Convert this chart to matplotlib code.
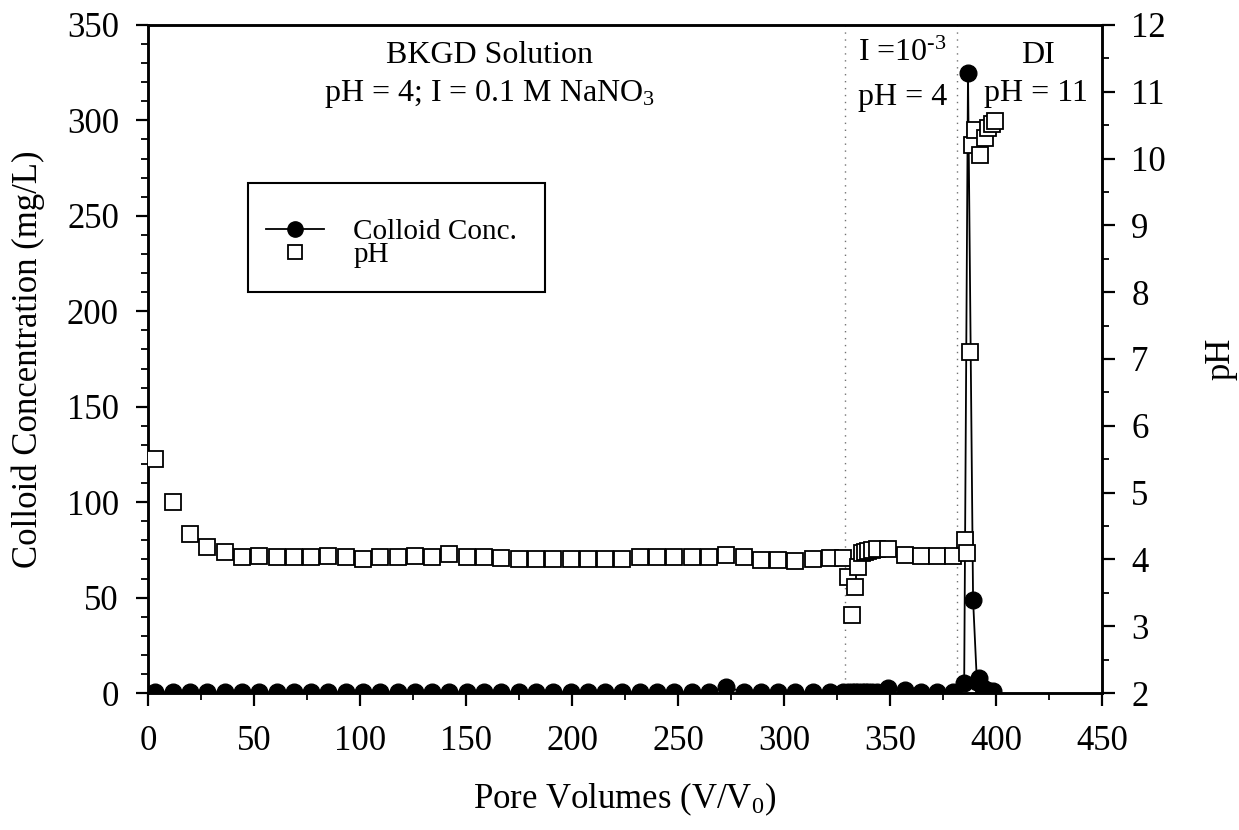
import matplotlib
matplotlib.use("Agg")
import matplotlib.pyplot as plt
from matplotlib.ticker import MultipleLocator
from matplotlib.lines import Line2D
from matplotlib.patches import Rectangle

plt.rcParams["font.family"] = ["Liberation Serif", "DejaVu Serif"]
plt.rcParams["mathtext.fontset"] = "custom"
plt.rcParams["mathtext.rm"] = "Liberation Serif"
plt.rcParams["mathtext.it"] = "Liberation Serif:italic"
plt.rcParams["mathtext.default"] = "regular"

# pore volumes sampled during the BKGD stage (same for both series)
pv_bkgd = [3.5, 11.7, 19.8, 28.0, 36.1, 44.3, 52.5, 60.6, 68.8, 76.9,
           85.1, 93.3, 101.4, 109.6, 117.7, 125.9, 134.1, 142.2, 150.4, 158.5,
           166.7, 174.9, 183.0, 191.2, 199.3, 207.5, 215.7, 223.8, 232.0, 240.1,
           248.3, 256.5, 264.6, 272.8, 280.9, 289.1, 297.3, 305.4, 313.6, 321.7]
ph_bkgd = [5.51, 4.86, 4.38, 4.18, 4.11, 4.04, 4.05, 4.04, 4.03, 4.03,
           4.05, 4.04, 4.01, 4.04, 4.04, 4.05, 4.04, 4.08, 4.04, 4.04,
           4.02, 4.01, 4.01, 4.01, 4.01, 4.01, 4.01, 4.01, 4.03, 4.03,
           4.04, 4.04, 4.04, 4.07, 4.04, 3.99, 3.99, 3.98, 4.01, 4.02]
conc_bkgd = [0.5, 0.5, 0.5, 0.5, 0.5, 0.5, 0.5, 0.5, 0.5, 0.5,
             0.5, 0.5, 0.5, 0.5, 0.5, 0.5, 0.5, 0.5, 0.5, 0.5,
             0.5, 0.5, 0.5, 0.5, 0.5, 0.5, 0.5, 0.5, 0.5, 0.5,
             0.5, 0.5, 0.5, 3.3, 0.5, 0.5, 0.5, 0.5, 0.5, 0.5]

# low ionic strength and DI stages
pv_ph_late = [327.8, 330.2, 332.1, 333.5, 334.9, 336.8, 338.2, 339.6, 341.5, 343.9,
              349.0, 357.0, 364.6, 372.2, 379.7, 385.3, 386.3, 387.7, 388.7, 390.1,
              392.5, 394.8, 396.2, 398.0, 399.5]
ph_late = [4.02, 3.74, 3.17, 3.59, 3.89, 4.09, 4.11, 4.13, 4.14, 4.15,
           4.15, 4.07, 4.05, 4.05, 4.05, 4.29, 4.09, 7.10, 10.20, 10.43,
           10.06, 10.31, 10.46, 10.51, 10.56]

pv_conc_late = [327.8, 330.2, 332.1, 333.5, 334.9, 336.8, 338.2, 339.6, 341.5, 343.9,
                349.0, 357.0, 364.6, 372.2, 379.7, 385.0, 386.8, 389.2, 391.0, 392.2,
                394.0, 396.0, 398.6]
conc_late = [0.5, 0.3, 0.3, 0.3, 0.3, 0.3, 0.3, 0.3, 0.3, 0.3,
             2.5, 1.5, 0.5, 0.3, 0.5, 5.2, 325.0, 48.7, 6.0, 7.7,
             2.5, 1.5, 1.0]

pv_ph = pv_bkgd + pv_ph_late
ph = ph_bkgd + ph_late
pv_conc = pv_bkgd + pv_conc_late
conc = conc_bkgd + conc_late

stage_bounds = [328.8, 381.4]

fig = plt.figure(figsize=(12.39, 8.30), dpi=100)
ax1 = fig.add_axes([0.1195, 0.165, 0.7699, 0.805])
ax2 = ax1.twinx()

# colloid concentration
ax1.plot(pv_conc, conc, color="black", lw=1.3, marker="o", ms=12,
         mfc="black", mec="black", zorder=3)

for xb in stage_bounds:
    ax1.axvline(xb, color="0.45", lw=1.0, ls=(0, (1, 4)), zorder=1)

# pH
ax2.plot(pv_ph, ph, ls="none", marker="s", ms=11, mfc="white", mec="black",
         mew=1.3, zorder=4)

ax1.set_xlim(0, 450)
ax1.set_ylim(0, 350)
ax2.set_ylim(2, 12)

ax1.xaxis.set_major_locator(MultipleLocator(50))
ax1.xaxis.set_minor_locator(MultipleLocator(25))
ax1.yaxis.set_major_locator(MultipleLocator(50))
ax1.yaxis.set_minor_locator(MultipleLocator(10))
ax2.yaxis.set_major_locator(MultipleLocator(1))
ax2.yaxis.set_minor_locator(MultipleLocator(0.5))

for ax in (ax1, ax2):
    ax.tick_params(which="major", direction="out", length=9, width=1.6, labelsize=25)
    ax.tick_params(which="minor", direction="out", length=5, width=1.3)
    for sp in ax.spines.values():
        sp.set_linewidth(1.8)
ax1.tick_params(axis="x", which="major", pad=14)
ax1.tick_params(axis="y", which="major", pad=12)
ax2.tick_params(axis="y", which="major", pad=12)

ax1.set_xlabel("Pore Volumes (V/V$_0$)", fontsize=25, labelpad=16)
ax1.set_ylabel("Colloid Concentration (mg/L)", fontsize=25, labelpad=16)
ax2.set_ylabel("pH", fontsize=25, labelpad=28)

# stage annotations
ax1.text(161, 334, "BKGD Solution", fontsize=23, ha="center", va="center")
ax1.text(161, 314, "pH = 4; I = 0.1 M NaNO$_3$", fontsize=23, ha="center", va="center")
ax1.text(356, 335, "I =10$^{\\text{-3}}$", fontsize=23, ha="center", va="center")
ax1.text(356, 312, "pH = 4", fontsize=23, ha="center", va="center")
ax1.text(419.6, 334, "DI", fontsize=23, ha="center", va="center")
ax1.text(419, 314, "pH = 11", fontsize=23, ha="center", va="center")

# legend: frame drawn separately to match the box proportions
ax2.add_patch(Rectangle((0.105, 0.6), 0.311, 0.163, transform=ax2.transAxes,
                        facecolor="white", edgecolor="black", lw=1.5, zorder=5))
handles = [
    Line2D([], [], color="black", lw=1.3, marker="o", ms=11, mfc="black"),
    Line2D([], [], ls="none", marker="s", ms=10, mfc="white", mec="black", mew=1.3),
]
leg = ax2.legend(handles, ["Colloid Conc.", "pH"], loc="center left",
                 bbox_to_anchor=(0.105, 0.673), borderaxespad=0, fontsize=21,
                 frameon=False, handlelength=2.0, handletextpad=1.0,
                 labelspacing=-0.1, borderpad=0.6)
leg.set_zorder(6)

fig.savefig("out.png", dpi=100)
